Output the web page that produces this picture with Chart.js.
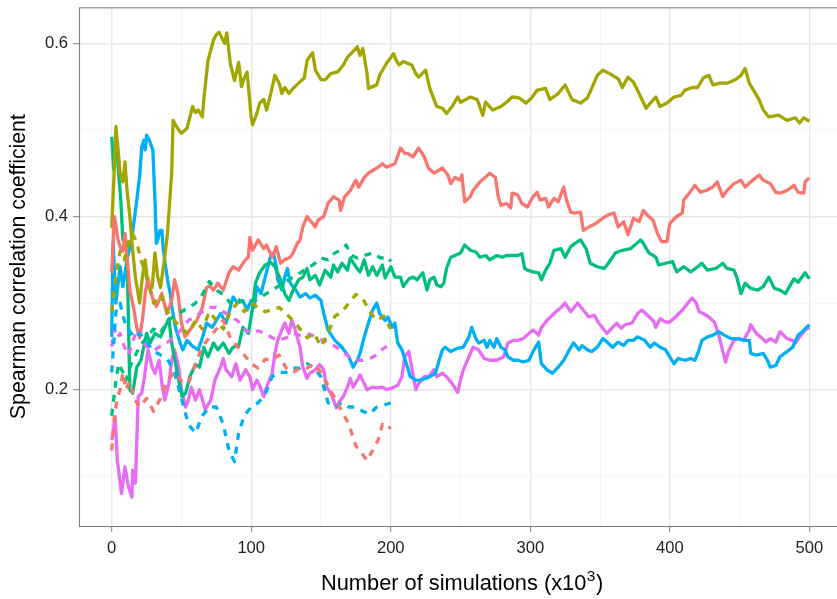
<!DOCTYPE html>
<html>
<head>
<meta charset="utf-8">
<script src="https://cdn.jsdelivr.net/npm/chart.js@4/dist/chart.umd.min.js"></script>
<style>
  html, body { margin: 0; padding: 0; background: #ffffff; }
  #wrap { width: 837px; height: 599px; }
</style>
</head>
<body>
<div id="wrap"><canvas id="c" width="837" height="599"></canvas></div>
<script>
// Running Spearman correlation estimates, [simulations (x1000), coefficient]
const redSolid = [[0,.335],[2,.40],[3,.39],[4.6,.373],[6,.365],[8,.36],[9.5,.38],[11,.353],[13,.315],[15.5,.296],[18,.272],[20,.26],[22,.28],[24,.311],[26,.329],[29,.307],[32,.296],[36,.311],[39.5,.288],[43,.303],[45,.327],[47.5,.311],[50,.277],[52.5,.261],[56,.269],[61,.28],[65,.295],[68,.318],[70,.32],[73,.315],[76,.323],[80,.315],[84,.335],[87,.342],[91,.338],[94,.346],[96,.35],[98,.353],[99,.376],[101,.361],[105,.373],[109,.363],[111,.367],[115,.353],[118,.365],[121,.346],[124,.35],[128,.353],[130,.358],[133,.369],[135,.373],[137,.388],[140,.40],[144,.392],[146,.388],[148,.396],[152,.40],[155,.415],[159,.423],[163,.419],[164,.407],[167,.423],[171,.43],[175,.442],[177,.434],[181,.445],[184,.45],[188,.454],[191,.457],[194,.461],[197,.457],[203,.461],[207,.479],[210,.473],[212,.473],[216,.469],[220,.479],[224,.469],[227,.456],[231,.45],[237,.456],[241,.448],[243,.438],[246,.445],[250,.442],[251,.448],[253,.417],[257,.423],[259,.43],[264,.44],[271,.45],[275,.445],[277,.423],[279,.413],[283,.415],[286,.41],[287,.427],[291,.425],[294,.415],[298,.411],[302,.423],[305,.428],[307,.419],[311,.421],[313,.411],[317,.421],[320,.417],[324,.434],[326,.419],[329,.405],[331,.404],[336,.405],[338,.384],[342,.388],[347,.392],[352,.398],[356,.402],[360,.404],[363,.388],[367,.394],[370,.379],[374,.398],[378,.394],[381,.407],[385,.40],[388,.396],[391,.381],[394,.371],[398,.371],[400,.392],[405,.40],[409,.404],[410,.419],[414,.427],[418,.436],[422,.428],[426,.43],[431,.434],[434,.44],[438,.423],[441,.43],[446,.438],[451,.442],[454,.434],[458,.44],[464,.448],[467,.442],[472,.438],[476,.428],[479,.427],[484,.43],[489,.436],[492,.428],[496,.427],[497,.44],[500,.445]];

const oliveSolid = [[0,.387],[2,.46],[3,.504],[5,.47],[6,.45],[8,.44],[9.5,.463],[11,.43],[13,.40],[15,.361],[17,.33],[20,.30],[22,.33],[24,.35],[26,.32],[29,.318],[31,.358],[33,.33],[35,.318],[38,.353],[40,.381],[43,.45],[44,.511],[46,.505],[48,.5],[50,.496],[54,.502],[58,.527],[60,.52],[62,.523],[65,.515],[66,.535],[69,.58],[73,.604],[75,.61],[77,.613],[79,.606],[81,.60],[82.5,.612],[85,.577],[88,.557],[91,.578],[93,.55],[95,.56],[97,.567],[98,.55],[100,.514],[101,.506],[104,.519],[106,.531],[109,.535],[111,.523],[114,.542],[117,.563],[120,.554],[122,.542],[124,.549],[127,.542],[130,.548],[134,.554],[138,.56],[140,.58],[142,.585],[144,.589],[146,.569],[150,.558],[153,.558],[157,.565],[162,.567],[166,.575],[169,.584],[172,.589],[176,.596],[178,.586],[180,.594],[183,.565],[184,.548],[187,.55],[190,.552],[192,.563],[197,.577],[202,.588],[204,.58],[206,.575],[209,.579],[212,.577],[215,.575],[218,.565],[220,.561],[225,.569],[228,.548],[233,.527],[237,.525],[240,.519],[244,.527],[248,.538],[250,.532],[257,.538],[262,.535],[266,.517],[268,.532],[273,.523],[279,.527],[283,.532],[287,.538],[292,.537],[297,.531],[301,.537],[305,.546],[311,.548],[314,.535],[320,.542],[325,.552],[330,.535],[336,.531],[341,.537],[344,.548],[348,.563],[352,.569],[357,.565],[363,.559],[366,.549],[370,.561],[374,.555],[378,.542],[383,.525],[386,.531],[390,.538],[393,.527],[398,.531],[403,.538],[408,.54],[411,.546],[416,.549],[420,.549],[424,.56],[428,.563],[431,.552],[436,.554],[441,.554],[447,.558],[451,.563],[454,.571],[457,.554],[460,.546],[464,.535],[467,.523],[471,.515],[478,.517],[484,.511],[490,.514],[493,.508],[496,.514],[500,.51]];

const greenSolid = [[0,.492],[1.5,.454],[3,.488],[4.5,.46],[6.5,.419],[8,.373],[9.5,.38],[11,.358],[12,.28],[13,.20],[15,.196],[18,.226],[21,.234],[25,.265],[27.5,.254],[31,.265],[35,.261],[38,.272],[41,.282],[43,.254],[47,.219],[50.5,.192],[53,.196],[56,.215],[60,.229],[63,.226],[66,.249],[69,.238],[73,.254],[76,.246],[80,.254],[84,.242],[87,.249],[91,.251],[94,.272],[98,.265],[101,.295],[103,.323],[106,.335],[110,.344],[114,.347],[117,.342],[121,.327],[124,.311],[127,.303],[130,.315],[134,.327],[137,.33],[140,.34],[142,.327],[146,.332],[149,.321],[153,.338],[157,.33],[159,.344],[162,.336],[165,.346],[169,.338],[171,.352],[175,.342],[178,.336],[181,.35],[184,.332],[187,.342],[190,.332],[194,.344],[196,.329],[200,.342],[203,.33],[207,.33],[209,.319],[213,.328],[216,.33],[219,.327],[223,.335],[226,.315],[228,.327],[231,.33],[233,.321],[236,.319],[238,.323],[240,.34],[243,.353],[246,.355],[250,.358],[253,.367],[257,.361],[261,.359],[264,.353],[268,.355],[271,.35],[276,.355],[280,.353],[283,.355],[287,.355],[291,.355],[294,.357],[296,.34],[298,.338],[302,.336],[306,.335],[308,.327],[311,.338],[314,.346],[317,.361],[322,.363],[325,.353],[329,.365],[332,.369],[336,.373],[340,.363],[343,.346],[348,.342],[353,.34],[356,.346],[361,.358],[366,.361],[372,.363],[375,.367],[379,.373],[381,.369],[385,.358],[390,.353],[392,.344],[397,.346],[402,.348],[405,.336],[410,.342],[415,.336],[420,.342],[423,.346],[427,.338],[433,.34],[438,.346],[441,.34],[446,.338],[448,.33],[451,.311],[454,.323],[458,.317],[463,.315],[467,.319],[471,.33],[475,.317],[479,.315],[483,.311],[485,.317],[489,.328],[492,.324],[497,.335],[500,.328]];

const blueSolid = [[0,.261],[1,.369],[2,.335],[3,.30],[6,.342],[8,.319],[11,.35],[14.5,.376],[18,.419],[20,.446],[21.5,.48],[23,.488],[24,.477],[25,.494],[27,.488],[29.5,.477],[31,.419],[32,.369],[33,.373],[34.5,.384],[36,.384],[37,.361],[40,.327],[42,.311],[43,.296],[46,.27],[49,.254],[51,.246],[54,.257],[58,.25],[62,.246],[65,.26],[68,.277],[72,.272],[78,.288],[82,.277],[87,.307],[90,.30],[94,.303],[97,.292],[100,.303],[102,.295],[104,.319],[107,.311],[110,.33],[114,.355],[116,.358],[118,.342],[119,.327],[122,.315],[124,.33],[126,.34],[128,.323],[132,.315],[135,.307],[139,.311],[142,.306],[146,.309],[150,.303],[152,.288],[155,.269],[160,.257],[165,.249],[170,.238],[173,.226],[176,.234],[178,.242],[181,.261],[184,.277],[187,.292],[190,.30],[192,.288],[196,.28],[198,.284],[201,.272],[203,.277],[205,.254],[208,.246],[212,.226],[214,.215],[218,.211],[221,.211],[225,.213],[228,.215],[232,.219],[234,.23],[237,.246],[239,.249],[243,.244],[248,.248],[252,.249],[256,.261],[258,.272],[261,.259],[263,.254],[267,.257],[269,.249],[271,.257],[274,.249],[276,.259],[279,.249],[282,.246],[284,.238],[288,.234],[291,.234],[295,.232],[299,.234],[302,.244],[306,.255],[308,.23],[312,.223],[316,.219],[320,.226],[324,.234],[328,.246],[331,.254],[335,.246],[337,.251],[341,.246],[344,.244],[348,.249],[352,.259],[355,.255],[359,.249],[363,.255],[367,.251],[370,.257],[374,.257],[377,.261],[382,.257],[386,.249],[389,.254],[393,.249],[397,.246],[400,.238],[403,.23],[406,.236],[411,.234],[415,.236],[418,.234],[421,.246],[423,.257],[427,.261],[431,.263],[435,.267],[439,.263],[444,.259],[449,.259],[453,.257],[457,.257],[458,.242],[462,.24],[467,.242],[470,.234],[472,.226],[476,.228],[479,.238],[484,.244],[488,.249],[492,.263],[495,.267],[500,.275]];

const pinkSolid = [[0,.142],[1,.15],[2.5,.169],[4,.119],[7,.08],[9.5,.111],[12,.088],[14.5,.076],[15,.107],[17,.092],[19,.192],[21.5,.196],[23.5,.215],[26,.246],[29,.226],[31,.219],[34,.234],[36,.207],[38,.188],[41,.207],[43,.234],[45,.246],[48,.226],[50,.20],[53,.18],[55,.188],[57,.203],[60,.188],[63,.20],[67,.177],[71,.188],[74,.211],[78,.226],[80,.236],[82,.223],[86,.215],[89,.23],[92,.211],[96,.223],[99,.215],[101,.20],[104,.211],[106,.205],[109,.192],[111,.203],[115,.219],[117,.242],[119,.257],[122,.269],[124,.277],[127,.265],[129,.28],[131,.272],[135,.249],[137,.226],[140,.213],[142,.219],[146,.223],[149,.229],[152,.223],[154,.203],[157,.196],[159,.188],[161,.179],[164,.188],[166,.192],[169,.203],[171,.213],[173,.203],[176,.211],[178,.217],[181,.207],[183,.20],[187,.203],[190,.202],[194,.203],[197,.20],[201,.202],[205,.205],[208,.215],[210,.238],[213,.244],[215,.226],[218,.20],[220,.207],[224,.215],[227,.215],[231,.223],[233,.215],[237,.219],[240,.215],[244,.207],[248,.197],[250,.211],[252,.223],[256,.238],[259,.249],[263,.246],[267,.236],[271,.234],[276,.234],[281,.238],[284,.254],[288,.257],[291,.257],[295,.259],[299,.265],[302,.269],[306,.263],[308,.272],[312,.28],[317,.288],[322,.295],[325,.30],[329,.29],[334,.30],[338,.292],[342,.284],[346,.286],[349,.277],[353,.269],[355,.265],[359,.272],[362,.277],[365,.271],[368,.275],[373,.277],[377,.288],[380,.292],[384,.286],[388,.28],[390,.272],[393,.282],[397,.278],[400,.278],[404,.284],[409,.292],[413,.30],[416,.306],[419,.30],[421,.29],[424,.288],[428,.284],[432,.278],[434,.269],[436,.257],[440,.232],[442,.244],[446,.257],[449,.259],[453,.257],[457,.269],[458,.275],[462,.265],[465,.261],[469,.255],[472,.259],[476,.255],[479,.267],[484,.259],[488,.257],[490,.254],[493,.261],[497,.269],[500,.272]];

const redDashed = [[0,.13],[2,.17],[4,.19],[6,.20],[8,.22],[10,.20],[13,.21],[16,.19],[20,.18],[25,.19],[30,.175],[35,.19],[40,.21],[45,.22],[50,.21],[55,.207],[60,.23],[65,.25],[70,.26],[75,.27],[80,.28],[85,.26],[90,.25],[95,.24],[100,.23],[105,.225],[110,.235],[115,.235],[120,.24],[125,.225],[130,.22],[135,.225],[140,.225],[145,.23],[150,.22],[155,.205],[160,.19],[165,.175],[170,.16],[175,.135],[180,.125],[183,.118],[187,.13],[191,.142],[194,.16],[198,.155],[200,.157]];

const oliveDashed = [[0,.29],[3,.33],[6,.36],[9,.35],[12,.37],[15,.38],[18,.37],[21,.35],[25,.33],[30,.30],[35,.31],[40,.29],[45,.28],[50,.27],[55,.265],[60,.28],[65,.27],[70,.29],[75,.28],[80,.27],[85,.29],[90,.30],[95,.29],[100,.30],[110,.29],[120,.295],[130,.28],[140,.26],[145,.265],[150,.25],[155,.265],[160,.285],[165,.29],[170,.30],[175,.31],[180,.305],[185,.29],[190,.28],[195,.285],[200,.27]];

const greenDashed = [[0,.17],[3,.21],[5,.23],[8,.22],[10,.21],[14,.23],[20,.25],[25,.26],[30,.27],[35,.265],[40,.28],[45,.285],[50,.29],[55,.295],[60,.30],[65,.31],[70,.325],[75,.315],[80,.31],[85,.30],[90,.305],[95,.30],[100,.30],[105,.305],[110,.31],[115,.315],[120,.32],[125,.325],[130,.33],[135,.335],[140,.34],[145,.345],[150,.352],[155,.35],[160,.358],[165,.362],[168,.367],[172,.355],[176,.352],[181,.355],[187,.358],[193,.352],[198,.353],[200,.348]];

const blueDashed = [[0,.22],[3,.29],[6,.30],[9,.28],[12,.27],[16,.26],[20,.265],[25,.255],[30,.245],[35,.24],[40,.235],[45,.22],[50,.19],[55,.16],[60,.15],[65,.17],[70,.18],[75,.18],[80,.16],[84,.13],[88,.117],[91,.15],[95,.17],[100,.18],[105,.185],[110,.195],[115,.215],[120,.22],[125,.22],[130,.225],[135,.225],[140,.23],[145,.225],[150,.215],[155,.185],[160,.18],[165,.185],[170,.18],[175,.18],[180,.175],[185,.172],[190,.18],[195,.182],[200,.185]];

const pinkDashed = [[0,.25],[2,.27],[4,.26],[6,.265],[9,.25],[12,.24],[15,.255],[18,.27],[21,.26],[25,.25],[30,.245],[35,.25],[40,.255],[45,.26],[50,.27],[55,.28],[60,.285],[65,.29],[70,.295],[75,.295],[80,.29],[85,.285],[90,.28],[95,.27],[100,.265],[105,.268],[110,.265],[115,.26],[120,.257],[125,.26],[130,.265],[135,.263],[140,.265],[145,.262],[150,.258],[155,.255],[160,.25],[165,.245],[170,.238],[175,.234],[180,.234],[185,.236],[190,.24],[195,.248],[200,.252]];

// Axis ticks and labels
const xMajorTicks = [0, 100, 200, 300, 400, 500];
const xMinorTicks = [50, 150, 250, 350, 450];
const yMajorTicks = [0.2, 0.4, 0.6];
const yMinorTicks = [0.1, 0.3, 0.5];
const yTickLabels = ['0.2', '0.4', '0.6'];
const xTitle = ['Number of simulations (x10', '3', ')'];
const yTitle = 'Spearman correlation coefficient';

const palette = { red: '#F8766D', olive: '#A3A500', green: '#00BF7D', blue: '#00B0F6', pink: '#E76BF3' };

const toPoints = arr => arr.map(p => ({ x: p[0], y: p[1] }));
const lineSet = (data, color, dashed) => ({
  data: toPoints(data),
  borderColor: color,
  borderWidth: 3.3,
  borderDash: dashed ? [7, 7] : [],
  borderCapStyle: 'butt',
  borderJoinStyle: 'round',
  pointRadius: 0,
  tension: 0,
  fill: false
});

const datasets = [
  lineSet(redDashed, palette.red, true),
  lineSet(oliveDashed, palette.olive, true),
  lineSet(greenDashed, palette.green, true),
  lineSet(blueDashed, palette.blue, true),
  lineSet(pinkDashed, palette.pink, true),
  lineSet(redSolid, palette.red, false),
  lineSet(oliveSolid, palette.olive, false),
  lineSet(greenSolid, palette.green, false),
  lineSet(blueSolid, palette.blue, false),
  lineSet(pinkSolid, palette.pink, false)
];

const FONT = "'Liberation Sans', Arial, Helvetica, sans-serif";
const isIn = (list, v) => list.some(t => Math.abs(t - v) < 1e-9);

// Panel frame plus the two axis titles
const frame = {
  id: 'frame',
  afterDatasetsDraw(chart) {
    const { ctx, chartArea: a } = chart;
    const xs = chart.scales.x;
    const rightEdge = xs.getPixelForValue(525);
    ctx.save();
    ctx.strokeStyle = '#7f7f7f';
    ctx.lineWidth = 1.1;
    ctx.strokeRect(a.left + 0.5, a.top + 0.5, rightEdge - a.left, a.bottom - a.top);
    ctx.restore();
  },
  afterDraw(chart) {
    const { ctx, chartArea: a } = chart;
    const xs = chart.scales.x;
    const cx = (a.left + xs.getPixelForValue(525)) / 2;
    ctx.save();
    ctx.fillStyle = '#000000';
    ctx.textBaseline = 'alphabetic';
    const big = '21.8px ' + FONT, small = '15.5px ' + FONT;
    ctx.font = big;
    const w1 = ctx.measureText(xTitle[0]).width;
    const w3 = ctx.measureText(xTitle[2]).width;
    ctx.font = small;
    const w2 = ctx.measureText(xTitle[1]).width;
    let x0 = cx - (w1 + w2 + w3) / 2;
    const base = 590;
    ctx.textAlign = 'left';
    ctx.font = big;
    ctx.fillText(xTitle[0], x0, base);
    ctx.font = small;
    ctx.fillText(xTitle[1], x0 + w1 + 0.5, base - 9.5);
    ctx.font = big;
    ctx.fillText(xTitle[2], x0 + w1 + w2 + 1, base);

    ctx.translate(24.5, (a.top + a.bottom) / 2);
    ctx.rotate(-Math.PI / 2);
    ctx.textAlign = 'center';
    ctx.font = '21.3px ' + FONT;
    ctx.fillText(yTitle, 0, 0);
    ctx.restore();
  }
};

new Chart(document.getElementById('c'), {
  type: 'line',
  data: { datasets },
  plugins: [frame],
  options: {
    responsive: false,
    animation: false,
    events: [],
    layout: { padding: { top: 7.3, right: 0, bottom: 0, left: 0 } },
    plugins: { legend: { display: false }, tooltip: { enabled: false }, title: { display: false } },
    scales: {
      x: {
        type: 'linear',
        min: -23.44,
        max: 519.85,
        afterBuildTicks(scale) {
          scale.ticks = xMajorTicks.concat(xMinorTicks).sort((p, q) => p - q).map(v => ({ value: v }));
        },
        afterFit(scale) { scale.height = 73; scale.paddingLeft = 0; scale.paddingRight = 0; },
        border: { display: false },
        grid: {
          color: c => isIn(xMajorTicks, c.tick.value) ? '#E6E6E6' : '#F3F3F3',
          lineWidth: c => isIn(xMajorTicks, c.tick.value) ? 1.4 : 0.8,
          drawTicks: true,
          tickLength: 6,
          tickWidth: 1,
          tickColor: c => isIn(xMajorTicks, c.tick.value) ? '#7f7f7f' : 'rgba(0,0,0,0)'
        },
        ticks: {
          autoSkip: false,
          maxRotation: 0,
          padding: 6,
          color: '#1f1f1f',
          font: { family: FONT, size: 16.6 },
          callback: v => isIn(xMajorTicks, v) ? String(v) : ''
        }
      },
      y: {
        type: 'linear',
        min: 0.0426,
        max: 0.6416,
        afterBuildTicks(scale) {
          scale.ticks = yMinorTicks.concat(yMajorTicks).sort((p, q) => p - q).map(v => ({ value: v }));
        },
        afterFit(scale) { scale.width = 79; scale.paddingTop = 0; scale.paddingBottom = 0; },
        border: { display: false },
        grid: {
          color: c => isIn(yMajorTicks, c.tick.value) ? '#E6E6E6' : '#F3F3F3',
          lineWidth: c => isIn(yMajorTicks, c.tick.value) ? 1.4 : 0.8,
          drawTicks: true,
          tickLength: 6,
          tickWidth: 1,
          tickColor: c => isIn(yMajorTicks, c.tick.value) ? '#7f7f7f' : 'rgba(0,0,0,0)'
        },
        ticks: {
          autoSkip: false,
          padding: 5,
          color: '#1f1f1f',
          font: { family: FONT, size: 16.6 },
          callback: v => {
            const i = yMajorTicks.findIndex(t => Math.abs(t - v) < 1e-9);
            return i >= 0 ? yTickLabels[i] : '';
          }
        }
      }
    }
  }
});
</script>
</body>
</html>
